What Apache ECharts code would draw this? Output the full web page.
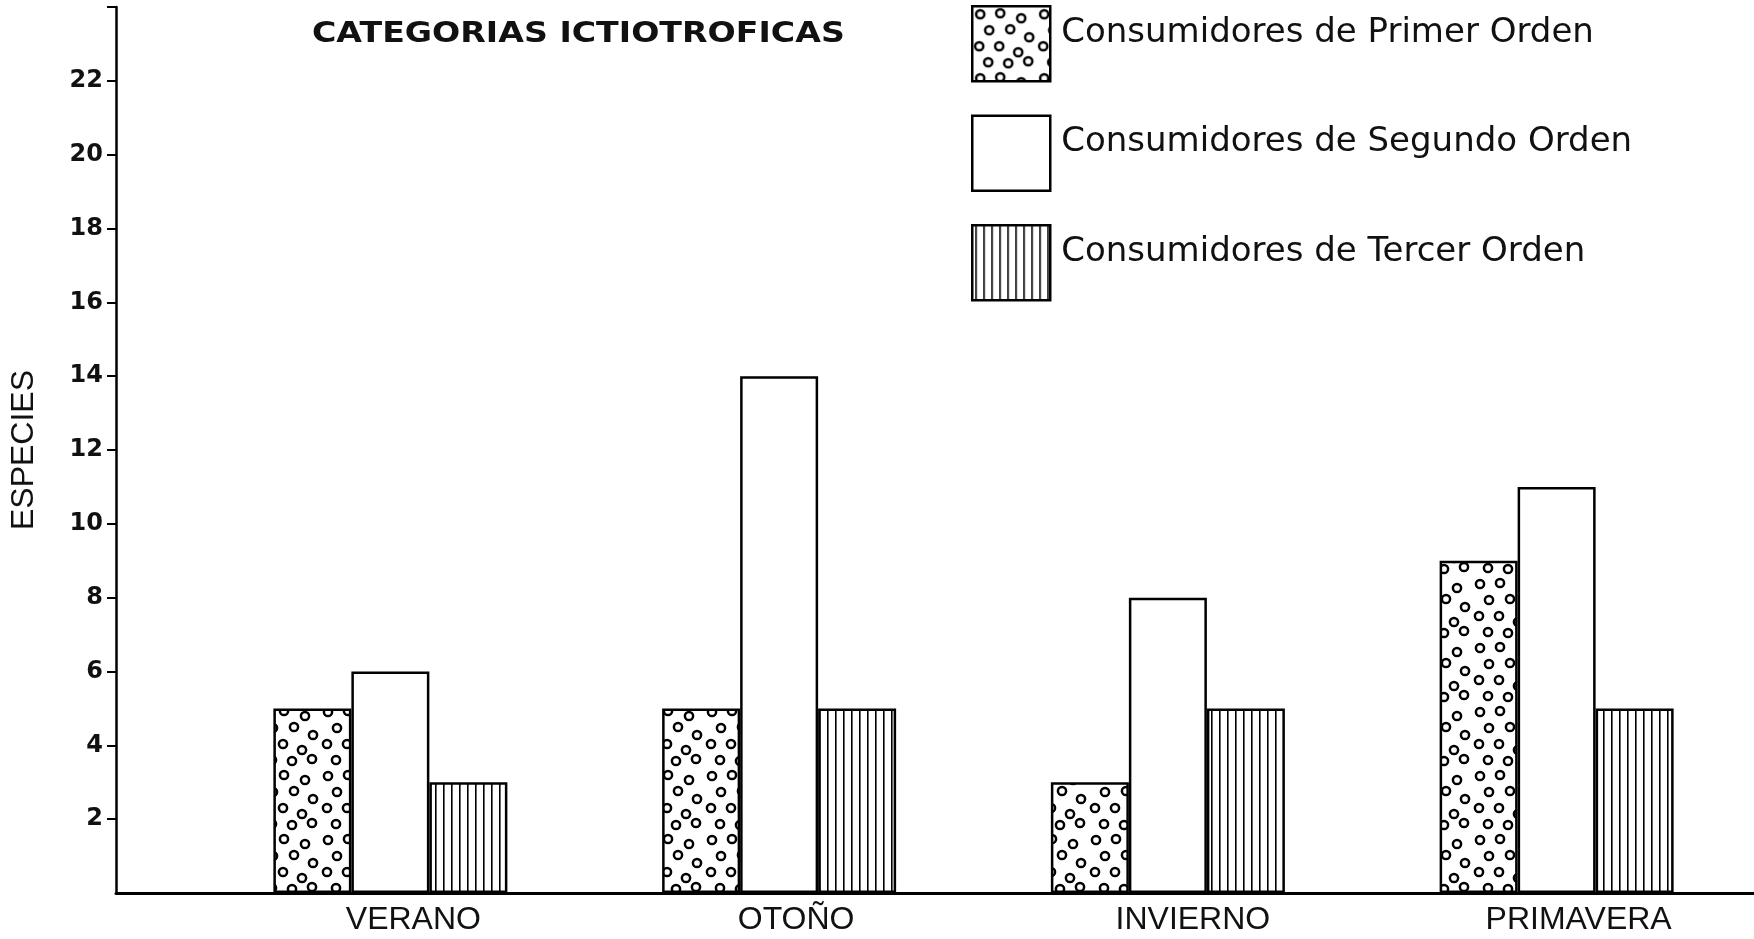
<!DOCTYPE html>
<html>
<head>
<meta charset="utf-8">
<title>Categorías ictiotróficas por estación</title>
<script src="https://cdn.jsdelivr.net/npm/echarts@6/dist/echarts.min.js"></script>
<style>
  html, body { margin: 0; padding: 0; background: #ffffff; }
  #chart { width: 1754px; height: 939px; }
</style>
</head>
<body>
<div id="chart"></div>
<script>
// Estaciones del año (eje X)
const seasons = ['VERANO', 'OTOÑO', 'INVIERNO', 'PRIMAVERA'];

// Nombres de las categorías tróficas
const seriesNames = [
  'Consumidores de Primer Orden',
  'Consumidores de Segundo Orden',
  'Consumidores de Tercer Orden'
];

// Número de especies por categoría y estación
const primerOrden = [5, 5, 3, 9];
const segundoOrden = [6, 14, 8, 11];
const tercerOrden = [3, 5, 5, 5];

// Marcas y etiquetas del eje de especies
const yTickValues = [2, 4, 6, 8, 10, 12, 14, 16, 18, 20, 22, 24];
const yLabelValues = [2, 4, 6, 8, 10, 12, 14, 16, 18, 20, 22];

const chartTitle = 'CATEGORIAS ICTIOTROFICAS';

// Trama de círculos abiertos (primer orden)
function circlePattern() {
  const c = document.createElement('canvas');
  c.width = 64; c.height = 64;
  const g = c.getContext('2d');
  g.fillStyle = '#ffffff';
  g.fillRect(0, 0, 64, 64);
  g.strokeStyle = '#000000';
  g.lineWidth = 2.5;
  const spots = [
    [8, 8], [28, 7], [49, 12], [17, 24], [38, 23], [57, 31],
    [7, 40], [27, 40], [46, 46], [16, 56], [36, 57], [56, 55]
  ];
  spots.forEach(function (p) {
    g.beginPath();
    g.arc(p[0], p[1], 4.1, 0, Math.PI * 2);
    g.stroke();
  });
  return c;
}

// Trama de rayas verticales (tercer orden)
function stripePattern() {
  const c = document.createElement('canvas');
  c.width = 8; c.height = 8;
  const g = c.getContext('2d');
  g.fillStyle = '#ffffff';
  g.fillRect(0, 0, 8, 8);
  g.fillStyle = '#000000';
  g.fillRect(3, 0, 1.6, 8);
  return c;
}

const fills = [
  { image: circlePattern(), repeat: 'repeat' },
  '#ffffff',
  { image: stripePattern(), repeat: 'repeat' }
];
const values = [primerOrden, segundoOrden, tercerOrden];

const chart = echarts.init(document.getElementById('chart'), null, { renderer: 'canvas' });

const option = {
  backgroundColor: '#ffffff',
  animation: false,
  graphic: [
    {
      // título, ensanchado como en el rotulado original
      type: 'text',
      x: 312,
      y: 34,
      scaleX: 1.145,
      style: {
        text: chartTitle,
        font: 'bold 29px "DejaVu Sans"',
        fill: '#111111',
        align: 'left',
        verticalAlign: 'middle'
      }
    }
  ],
  legend: {
    orient: 'vertical',
    left: 971,
    top: 5,
    padding: 0,
    itemWidth: 78,
    itemHeight: 75,
    itemGap: 32,
    icon: 'rect',
    itemStyle: { borderColor: '#000000', borderWidth: 2.5 },
    formatter: function (name) { return '{t|' + name + '}'; },
    textStyle: {
      fontFamily: 'DejaVu Sans',
      fontSize: 34,
      color: '#111111',
      rich: {
        t: {
          fontFamily: 'DejaVu Sans',
          fontSize: 34,
          color: '#111111',
          padding: [0, 0, 22, 6]
        }
      }
    },
    data: seriesNames
  },
  grid: [
    { left: 196, right: 3, top: 7, bottom: 46 },
    { left: 116, right: 0, top: 7, bottom: 46 }
  ],
  xAxis: [
    {
      type: 'category',
      gridIndex: 0,
      data: seasons,
      axisLine: { show: false },
      axisTick: { show: false },
      axisLabel: {
        interval: 0,
        margin: 11,
        fontFamily: 'Liberation Sans',
        fontSize: 32,
        color: '#111111',
        formatter: function (v, i) { return '{s' + i + '|' + v + '}'; },
        rich: {
          s0: { padding: [0, 0, 0, 46] },
          s1: { padding: [0, 0, 0, 34] },
          s2: { padding: [0, 0, 0, 50] },
          s3: { padding: [0, 0, 0, 44] }
        }
      }
    },
    {
      type: 'value',
      gridIndex: 1,
      min: 0,
      max: 1,
      axisLine: { show: true, lineStyle: { color: '#000000', width: 3 } },
      axisTick: { show: false },
      axisLabel: { show: false },
      splitLine: { show: false }
    }
  ],
  yAxis: [
    {
      type: 'value',
      gridIndex: 0,
      min: 0,
      max: 24,
      interval: 2,
      show: false,
      splitLine: { show: false }
    },
    {
      type: 'value',
      gridIndex: 1,
      min: 0,
      max: 24,
      interval: 2,
      name: 'ESPECIES',
      nameLocation: 'middle',
      nameGap: 76,
      nameRotate: 90,
      nameTextStyle: {
        fontFamily: 'Liberation Sans',
        fontSize: 32,
        color: '#111111'
      },
      axisLine: { show: true, lineStyle: { color: '#000000', width: 2.5 } },
      axisTick: {
        show: true,
        length: 9,
        customValues: yTickValues,
        lineStyle: { color: '#000000', width: 2 }
      },
      axisLabel: {
        customValues: yLabelValues,
        margin: 13,
        fontFamily: 'DejaVu Sans',
        fontWeight: 'bold',
        fontSize: 24,
        color: '#111111',
        verticalAlign: 'middle',
        padding: [0, 0, 12, 0],
        formatter: function (v) { return (v === 0 || v === 24) ? '' : String(v); }
      },
      splitLine: { show: false }
    }
  ],
  series: seriesNames.map(function (name, k) {
    return {
      name: name,
      type: 'bar',
      xAxisIndex: 0,
      yAxisIndex: 0,
      data: values[k],
      barWidth: 78,
      barGap: '0%',
      itemStyle: {
        color: fills[k],
        borderColor: '#000000',
        borderWidth: 2.5
      },
      emphasis: { disabled: true }
    };
  })
};

chart.setOption(option);
</script>
</body>
</html>
